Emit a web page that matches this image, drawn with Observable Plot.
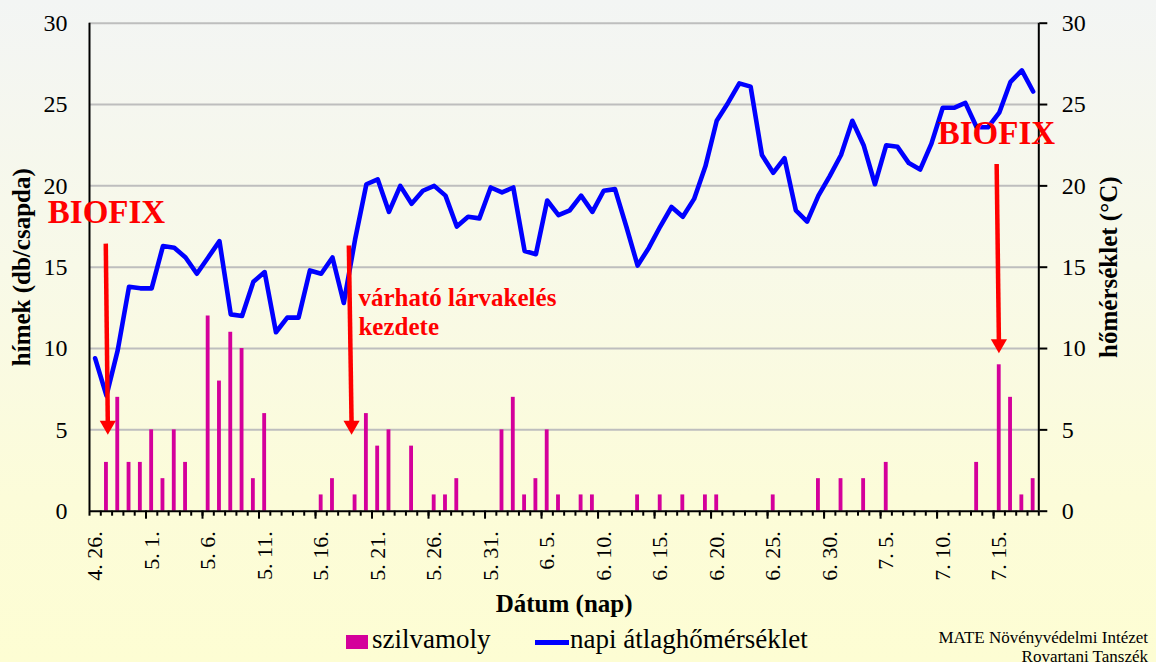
<!DOCTYPE html>
<html>
<head>
<meta charset="utf-8">
<script src="https://cdn.jsdelivr.net/npm/d3@7"></script>
<script src="https://cdn.jsdelivr.net/npm/@observablehq/plot@0.6"></script>
<style>
html, body { margin: 0; padding: 0; }
#wrap {
  position: relative; width: 1156px; height: 662px; overflow: hidden;
  background: linear-gradient(to bottom, #f3f5f4 0%, #f8f9e8 40%, #fcfcd9 75%, #fdfdd3 100%);
  font-family: "Liberation Serif", "Times New Roman", serif; color: #000;
}
#chart svg { display: block; }
#legend { position: relative; height: 40px; }
#legend .sw { position: absolute; }
#legend .lt { position: absolute; font-size: 27px; line-height: 27px; white-space: nowrap; }
#legend .cap { position: absolute; right: 8px; font-size: 17px; line-height: 19px; text-align: right; white-space: nowrap; }
</style>
</head>
<body>
<div id="wrap">
  <div id="chart"></div>
  <div id="legend">
    <div class="sw" style="left:346px; top:13px; width:22px; height:14px; background:#d4009b;"></div>
    <div class="lt" style="left:372px; top:4px;">szilvamoly</div>
    <div class="sw" style="left:535px; top:18px; width:34px; height:5px; background:#0000ff;"></div>
    <div class="lt" style="left:570px; top:4px;">napi átlaghőmérséklet</div>
    <div class="cap" style="top:6px;">MATE Növényvédelmi Intézet<br>Rovartani Tanszék</div>
  </div>
</div>
<script>
// ---- data ----
// daily male catches, 4.26. – 7.18. (84 days)
const moths = [
  0, 3, 7, 3, 3, 5, 2, 5, 3, 0,
  12, 8, 11, 10, 2, 6, 0, 0, 0, 0,
  1, 2, 0, 1, 6, 4, 5, 0, 4, 0,
  1, 1, 2, 0, 0, 0, 5, 7, 1, 2,
  5, 1, 0, 1, 1, 0, 0, 0, 1, 0,
  1, 0, 1, 0, 1, 1, 0, 0, 0, 0,
  1, 0, 0, 0, 2, 0, 2, 0, 2, 0,
  3, 0, 0, 0, 0, 0, 0, 0, 3, 0,
  9, 7, 1, 2
];
// daily mean temperature (°C)
const temps = [
  9.4, 7.1, 9.9, 13.8, 13.7, 13.7, 16.3, 16.2, 15.6, 14.6,
  15.6, 16.6, 12.1, 12.0, 14.1, 14.7, 11.0, 11.9, 11.9, 14.8,
  14.6, 15.6, 12.8, 16.7, 20.1, 20.4, 18.4, 20.0, 18.9, 19.7,
  20.0, 19.4, 17.5, 18.1, 18.0, 19.9, 19.6, 19.9, 16.0, 15.8,
  19.1, 18.2, 18.5, 19.4, 18.4, 19.7, 19.8, 17.5, 15.1, 16.2,
  17.5, 18.7, 18.1, 19.2, 21.2, 24.0, 25.1, 26.3, 26.1, 21.9,
  20.8, 21.7, 18.5, 17.8, 19.4, 20.6, 21.9, 24.0, 22.5, 20.1,
  22.5, 22.4, 21.4, 21.0, 22.6, 24.8, 24.8, 25.1, 23.6, 23.6,
  24.5, 26.4, 27.1, 25.8
];
const tickLabels = ["4. 26.", "5. 1.", "5. 6.", "5. 11.", "5. 16.", "5. 21.", "5. 26.", "5. 31.",
  "6. 5.", "6. 10.", "6. 15.", "6. 20.", "6. 25.", "6. 30.", "7. 5.", "7. 10.", "7. 15."];
const yTicks = [0, 5, 10, 15, 20, 25, 30];
// annotations (x in day units from 4.26., y in axis units)
const arrows = [
  {x1: 1.44, y1: 16.45, x2: 1.62, y2: 4.7},
  {x1: 22.95, y1: 16.33, x2: 23.19, y2: 4.7},
  {x1: 80.27, y1: 21.35, x2: 80.47, y2: 9.71}
];
const biofixNotes = [{x: 1.5, y: 17.7, t: "BIOFIX"}, {x: 80.25, y: 22.58, t: "BIOFIX"}];
const hatchNotes = [{x: 23.8, y: 12.6, t: "várható lárvakelés"}, {x: 23.8, y: 10.86, t: "kezdete"}];

// ---- chart ----
const N = temps.length;
const rows = temps.map((t, i) => ({i, temp: t, moths: moths[i]}));
const labelAt = new Map(tickLabels.map((t, k) => [k * 5 + 0.5, t]));
const half = 0.17;
const serif = '"Liberation Serif", "Times New Roman", serif';

const chart = Plot.plot({
  width: 1156, height: 622,
  marginLeft: 89, marginRight: 117.7, marginTop: 22.7, marginBottom: 111.3,
  style: {background: "transparent", fontFamily: serif, color: "#000", overflow: "visible"},
  x: {type: "linear", domain: [0, N]},
  y: {domain: [0, 30]},
  marks: [
    Plot.gridY(yTicks.filter(v => v > 0), {stroke: "#bebebe", strokeOpacity: 1, strokeWidth: 2}),
    Plot.rectY(rows.filter(d => d.moths > 0), {
      x1: d => d.i + 0.5 - half, x2: d => d.i + 0.5 + half, y1: 0, y2: "moths", fill: "#d4009b"
    }),
    Plot.line(rows, {x: d => d.i + 0.5, y: "temp", stroke: "#0000ff", strokeWidth: 4.6,
      strokeLinejoin: "round", strokeLinecap: "round"}),
    Plot.ruleX([0, N], {stroke: "#000", strokeWidth: 2}),
    Plot.ruleY([0], {stroke: "#000", strokeWidth: 2}),
    Plot.axisY({ticks: yTicks, anchor: "left", tickSize: 0, tickPadding: 22, fontSize: 24, fontFamily: serif, label: null}),
    Plot.axisY({ticks: yTicks, anchor: "right", tickSize: 8, tickPadding: 15, fontSize: 24, fontFamily: serif, strokeWidth: 2, label: null}),
    Plot.axisX({ticks: d3.range(0, N + 1), anchor: "bottom", tickSize: 5, tickFormat: () => "", strokeWidth: 2, label: null}),
    Plot.axisX({ticks: d3.range(5, N, 5), anchor: "bottom", tickSize: 8, tickFormat: () => "", strokeWidth: 2, label: null}),
    Plot.axisX({ticks: [...labelAt.keys()], anchor: "bottom", tickSize: 0, tickPadding: 20, tickRotate: -90,
      tickFormat: v => labelAt.get(v), fontSize: 22, fontFamily: serif, label: null}),
    // axis titles
    Plot.text(["hímek (db/csapda)"], {frameAnchor: "left", rotate: -90, dx: -59.5, lineAnchor: "bottom",
      textAnchor: "middle", fontSize: 25, fontWeight: "bold", fontFamily: serif}),
    Plot.text(["hőmérséklet (°C)"], {frameAnchor: "right", rotate: -90, dx: 77.7, lineAnchor: "bottom",
      textAnchor: "middle", fontSize: 25, fontWeight: "bold", fontFamily: serif}),
    Plot.text(["Dátum (nap)"], {frameAnchor: "bottom", dy: 100.6, lineAnchor: "bottom",
      textAnchor: "middle", fontSize: 25, fontWeight: "bold", fontFamily: serif}),
    // annotations
    Plot.link(arrows, {x1: "x1", y1: "y1", x2: "x2", y2: d => d.y2 + 0.7, stroke: "#ff0000", strokeWidth: 4.5}),
    Plot.dot(arrows, {x: "x2", y: "y2", symbol: "triangle", rotate: 180, r: 6, fill: "#ff0000", stroke: "none", dy: -9.3}),
    Plot.text(biofixNotes, {x: "x", y: "y", text: "t", fill: "#ff0000", fontSize: 33, fontWeight: "bold",
      lineAnchor: "bottom", textAnchor: "middle", fontFamily: serif}),
    Plot.text(hatchNotes, {x: "x", y: "y", text: "t", fill: "#ff0000", fontSize: 25, fontWeight: "bold",
      lineAnchor: "bottom", textAnchor: "start", fontFamily: serif})
  ]
});
document.getElementById("chart").appendChild(chart);
</script>
</body>
</html>
